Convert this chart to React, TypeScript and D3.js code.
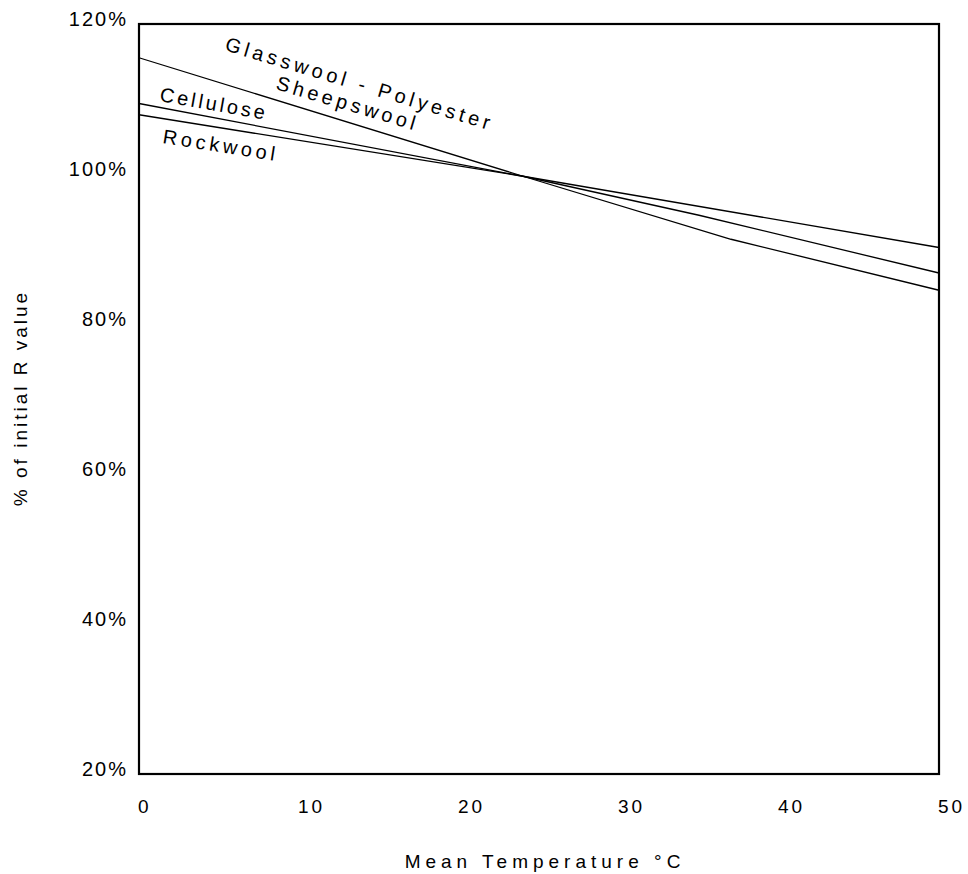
import React, { useEffect, useRef } from 'react';
import * as d3 from 'd3';

// temperatures (°C) and % of initial R value
const glasswoolTemps = [0, 24, 37, 50];
const glasswoolValues = [115.5, 99.7, 91.3, 84.5];
const celluloseTemps = [0, 24, 35, 50];
const celluloseValues = [109.4, 99.7, 94.5, 86.8];
const rockwoolTemps = [0, 24, 50];
const rockwoolValues = [107.9, 99.7, 90.2];

const xTicks = [0, 10, 20, 30, 40, 50];
const yTicks = [20, 40, 60, 80, 100, 120];

const FONT = "'Liberation Sans', Arial, sans-serif";

const Chart = () => {
  const ref = useRef<SVGSVGElement>(null);

  useEffect(() => {
    const width = 968;
    const height = 874;
    const margin = { top: 24, right: 29, bottom: 100, left: 139 };

    const svg = d3.select(ref.current).attr('width', width).attr('height', height);
    svg.selectAll('*').remove();

    const x = d3.scaleLinear().domain([0, 50]).range([margin.left, width - margin.right]);
    const y = d3.scaleLinear().domain([20, 120]).range([height - margin.bottom, margin.top]);

    const series = [
      { temps: glasswoolTemps, values: glasswoolValues },
      { temps: celluloseTemps, values: celluloseValues },
      { temps: rockwoolTemps, values: rockwoolValues },
    ];

    const line = d3
      .line<[number, number]>()
      .x((d) => x(d[0]))
      .y((d) => y(d[1]));

    series.forEach((s) => {
      svg
        .append('path')
        .attr('d', line(s.temps.map((t, i) => [t, s.values[i]] as [number, number])))
        .attr('fill', 'none')
        .attr('stroke', '#000')
        .attr('stroke-width', 1.3);
    });

    // frame
    svg
      .append('rect')
      .attr('x', x(0))
      .attr('y', y(120))
      .attr('width', x(50) - x(0))
      .attr('height', y(20) - y(120))
      .attr('fill', 'none')
      .attr('stroke', '#000')
      .attr('stroke-width', 2.2);

    // y tick labels
    svg
      .selectAll('.ylab')
      .data(yTicks)
      .enter()
      .append('text')
      .attr('x', 128)
      .attr('y', (d) => y(d) + 2)
      .attr('text-anchor', 'end')
      .attr('font-family', FONT)
      .attr('font-size', 20)
      .attr('letter-spacing', 2)
      .text((d) => d + '%');

    // x tick labels
    svg
      .selectAll('.xlab')
      .data(xTicks)
      .enter()
      .append('text')
      .attr('x', (d) => x(d) - 1)
      .attr('y', 813)
      .attr('font-family', FONT)
      .attr('font-size', 19)
      .attr('letter-spacing', 3)
      .text((d) => d);

    svg
      .append('text')
      .attr('x', 545)
      .attr('y', 868)
      .attr('text-anchor', 'middle')
      .attr('font-family', FONT)
      .attr('font-size', 19)
      .attr('letter-spacing', 5)
      .text('Mean Temperature °C');

    svg
      .append('text')
      .attr('transform', 'translate(27,398) rotate(-90)')
      .attr('text-anchor', 'middle')
      .attr('font-family', FONT)
      .attr('font-size', 19)
      .attr('letter-spacing', 3)
      .text('% of initial R value');

    // labels along the lines
    const labels = [
      { text: 'Glasswool - Polyester', x: 224, y: 50, angle: 16.8, spacing: 4.1 },
      { text: 'Sheepswool', x: 275, y: 89, angle: 16.5, spacing: 3.9 },
      { text: 'Cellulose', x: 159, y: 101, angle: 10, spacing: 3 },
      { text: 'Rockwool', x: 162, y: 143, angle: 9, spacing: 3.8 },
    ];
    svg
      .selectAll('.lab')
      .data(labels)
      .enter()
      .append('text')
      .attr('transform', (d) => `translate(${d.x},${d.y}) rotate(${d.angle})`)
      .attr('font-family', FONT)
      .attr('font-size', 20)
      .attr('letter-spacing', (d) => d.spacing)
      .text((d) => d.text);
  }, []);

  return <svg ref={ref} style={{ position: 'absolute', left: 0, top: 0 }} />;
};

export default function App() {
  return <Chart />;
}
